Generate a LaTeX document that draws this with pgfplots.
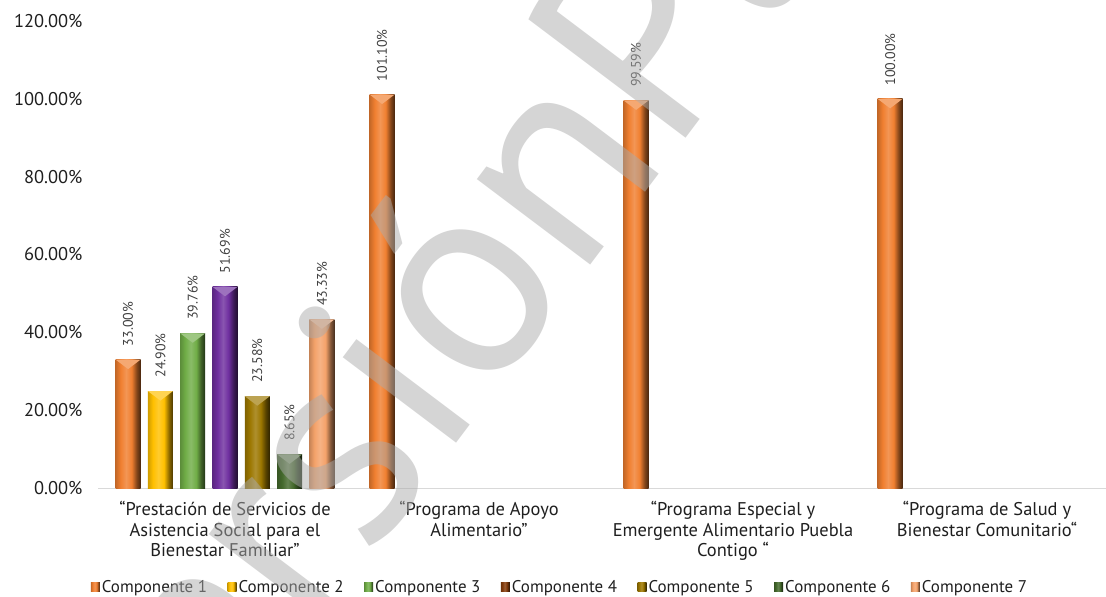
\documentclass[border=0pt]{standalone}
\usepackage{fontspec}
\setmainfont{PT Sans}
\usepackage{pgfplots}
\usepackage{pgfplotstable}
\pgfplotsset{compat=1.18}

\definecolor{c1}{HTML}{F07F30}
\definecolor{c2}{HTML}{FFC000}
\definecolor{c3}{HTML}{70AD47}
\definecolor{c4}{HTML}{6F2F9F}
\definecolor{c4l}{HTML}{843C0C}
\definecolor{c5}{HTML}{9C7700}
\definecolor{c6}{HTML}{44692C}
\definecolor{c7}{HTML}{F4A26A}

\newcommand\bevshade[2]{%
 \colorlet{#1A}{#2!82!black}\colorlet{#1B}{#2}\colorlet{#1C}{#2!82!white}%
 \colorlet{#1D}{#2!55!black}\colorlet{#1E}{#2!30!black}%
 \pgfdeclarehorizontalshading{#1}{100bp}{color(0bp)=(#1A); color(25bp)=(#1A); color(35bp)=(#1B); color(46bp)=(#1C); color(57bp)=(#1B); color(67bp)=(#1D); color(75bp)=(#1E); color(100bp)=(#1E)}}
\bevshade{bevA}{c1}
\bevshade{bevB}{c2}
\bevshade{bevC}{c3}
\bevshade{bevD}{c4}
\bevshade{bevDl}{c4l}
\bevshade{bevE}{c5}
\bevshade{bevF}{c6}
\bevshade{bevG}{c7}

% bevelled top cap of a bar, drawn at the bar's top point
\pgfdeclareplotmark{bevtop}{%
  \pgfpathmoveto{\pgfpoint{-12.5bp}{0bp}}%
  \pgfpathlineto{\pgfpoint{12.5bp}{0bp}}%
  \pgfpathlineto{\pgfpoint{0bp}{-9.5bp}}%
  \pgfpathclose\pgfusepathqfill}

\pgfplotstableread{
x  c1     c2    c3    c4    c5    c6   c7
0  33.00  24.90 39.76 51.69 23.58 8.65 43.33
1  101.10 nan   nan   nan   nan   nan  nan
2  99.59  nan   nan   nan   nan   nan  nan
3  100.00 nan   nan   nan   nan   nan  nan
}\datatable

\pgfplotsset{
  barlbl/.style={
    nodes near coords={\pgfmathprintnumber[fixed,fixed zerofill,precision=2]{\pgfplotspointmeta}\%},
    every node near coord/.append style={rotate=90, anchor=west, xshift=10bp,
                    font=\fontsize{14}{14}\selectfont, text=black!75}},
  bevbar/.style={draw=none, shade, shading=#1, barlbl},
  cap/.style 2 args={forget plot, sharp plot, only marks, mark=bevtop,
    mark options={fill=#1!68!white, draw=none, xshift=#2}},
}

\begin{document}
\begin{tikzpicture}
\begin{axis}[
  x=254bp, y=3.8917bp,
  xmin=-0.5, xmax=3.4685, ymin=0, ymax=120,
  separate axis lines,
  axis x line*=bottom, axis y line*=left,
  x axis line style={draw=black!15, line width=1bp},
  y axis line style={draw=none},
  major tick length=0pt,
  clip=false,
  xtick={0,1,2,3},
  xticklabels={{“Prestación de Servicios de\\Asistencia Social para el\\Bienestar Familiar”},
               {“Programa de Apoyo\\Alimentario”},
               {“Programa Especial y\\Emergente Alimentario Puebla\\Contigo “},
               {“Programa de Salud y\\Bienestar Comunitario“}},
  xticklabel style={align=center, anchor=north, yshift=-10bp, text=black!88,
                    font=\fontsize{18.5}{20.5}\selectfont},
  ytick={0,20,...,120},
  yticklabel={\pgfmathprintnumber[fixed,fixed zerofill,precision=2]{\tick}\%},
  yticklabel style={anchor=east, xshift=-12bp, text=black!88, font=\fontsize{18.5}{20}\selectfont},
  /pgf/number format/assume math mode=true,
  ybar, bar width=25bp,
  legend columns=7,
  legend image code/.code={\draw[#1,draw=none] (0bp,-4.5bp) rectangle (9bp,4.5bp);},
  legend style={at={(0.4583,-0.212)}, anchor=center, draw=none, fill=none,
                font=\fontsize{17}{19}\selectfont, text=black!88,
                /tikz/every even column/.append style={column sep=18.5bp}},
]
\addplot[bevbar=bevA, bar shift=-96.9bp, restrict x to domain=0:0] table[x=x, y=c1] {\datatable};
\addlegendentry{Componente 1}
\addplot[bevbar=bevB, bar shift=-64.6bp] table[x=x, y=c2] {\datatable};
\addlegendentry{Componente 2}
\addplot[bevbar=bevC, bar shift=-32.3bp] table[x=x, y=c3] {\datatable};
\addlegendentry{Componente 3}
\addplot[bevbar=bevD, bar shift=0bp,
  legend image code/.code={\draw[draw=none, shade, shading=bevDl] (0bp,-4.5bp) rectangle (9bp,4.5bp);}]
  table[x=x, y=c4] {\datatable};
\addlegendentry{Componente 4}
\addplot[bevbar=bevE, bar shift=32.3bp] table[x=x, y=c5] {\datatable};
\addlegendentry{Componente 5}
\addplot[bevbar=bevF, bar shift=64.6bp] table[x=x, y=c6] {\datatable};
\addlegendentry{Componente 6}
\addplot[bevbar=bevG, bar shift=96.9bp] table[x=x, y=c7] {\datatable};
\addlegendentry{Componente 7}
% Componente 1 in the other programmes (one plot per bar so that each bar gets its own shading)
\addplot[forget plot, bevbar=bevA, bar shift=-96.9bp, restrict x to domain=1:1] table[x=x, y=c1] {\datatable};
\addplot[forget plot, bevbar=bevA, bar shift=-96.9bp, restrict x to domain=2:2] table[x=x, y=c1] {\datatable};
\addplot[forget plot, bevbar=bevA, bar shift=-96.9bp, restrict x to domain=3:3] table[x=x, y=c1] {\datatable};
% bevelled top caps
\addplot[cap={c1}{-96.9bp}] table[x=x, y=c1] {\datatable};
\addplot[cap={c2}{-64.6bp}] table[x=x, y=c2] {\datatable};
\addplot[cap={c3}{-32.3bp}] table[x=x, y=c3] {\datatable};
\addplot[cap={c4}{0bp}]     table[x=x, y=c4] {\datatable};
\addplot[cap={c5}{32.3bp}]  table[x=x, y=c5] {\datatable};
\addplot[cap={c6}{64.6bp}]  table[x=x, y=c6] {\datatable};
\addplot[cap={c7}{96.9bp}]  table[x=x, y=c7] {\datatable};

\coordinate (bbsw) at (axis cs:-0.88583,-28.008);
\coordinate (bbne) at (axis cs:3.4685,125.395);
\coordinate (wmP) at (axis cs:1.7559,84.80);
\end{axis}
\begin{scope}[opacity=0.5]
\node[rotate=53, anchor=base east, inner sep=0pt, text=black!33,
      font=\fontsize{285}{285}\selectfont] at (wmP) {Versión\ };
\node[rotate=53, anchor=base west, inner sep=0pt, text=black!33,
      font=\fontsize{285}{285}\selectfont] at (wmP) {Pública};
\end{scope}
\pgfresetboundingbox
\useasboundingbox (bbsw) rectangle (bbne);
\end{tikzpicture}
\end{document}
